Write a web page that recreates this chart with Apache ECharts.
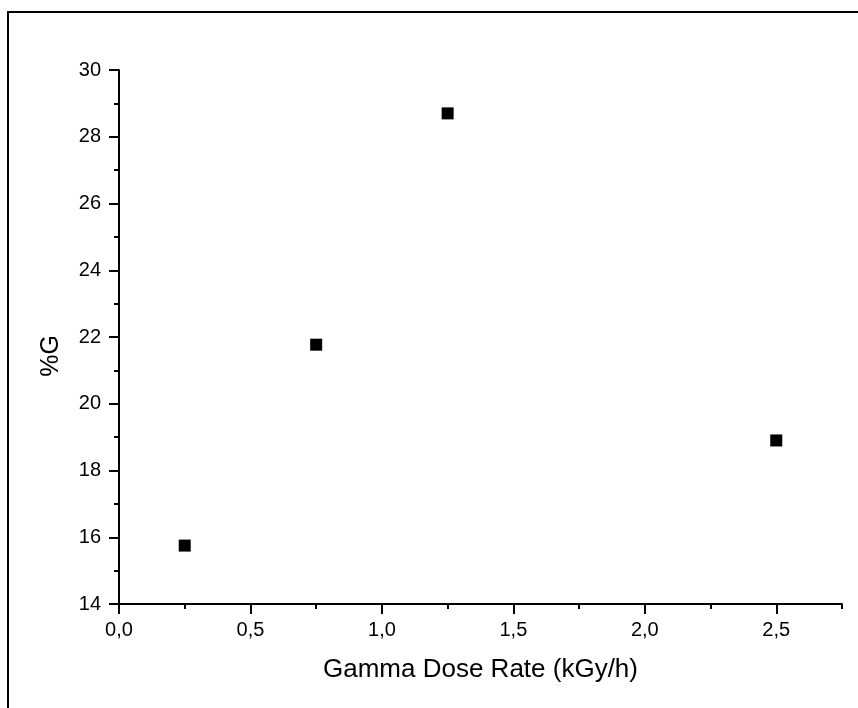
<!DOCTYPE html>
<html>
<head>
<meta charset="utf-8">
<script src="https://cdn.jsdelivr.net/npm/echarts@6/dist/echarts.min.js"></script>
<style>html,body{margin:0;padding:0;background:#fff}#c{width:858px;height:708px}</style>
</head>
<body>
<div id="c"></div>
<script>
const doseRate = [0.25, 0.75, 1.25, 2.5];
const gPercent = [15.75, 21.77, 28.70, 18.90];
const xMajorTicks = [0, 0.5, 1.0, 1.5, 2.0, 2.5];
const xMinorTicks = [0.25, 0.75, 1.25, 1.75, 2.25, 2.75];
const xTitle = 'Gamma Dose Rate (kGy/h)';
const yTitle = '%G';

const FONT = "'Liberation Sans', Arial, sans-serif";
const chart = echarts.init(document.getElementById('c'));
const lineStyle = {color: '#000', width: 2};
chart.setOption({
  animation: false,
  backgroundColor: '#fff',
  grid: {left: 119, right: 16, top: 70, bottom: 104},
  graphic: [
    {type: 'line', shape: {x1: 8, y1: 12, x2: 858, y2: 12}, style: {stroke: '#000', lineWidth: 2}},
    {type: 'line', shape: {x1: 8, y1: 11, x2: 8, y2: 708}, style: {stroke: '#000', lineWidth: 2}}
  ],
  xAxis: [{
    type: 'value', min: 0, max: 2.75, interval: 0.5,
    name: xTitle, nameLocation: 'middle', nameGap: 53,
    nameTextStyle: {fontFamily: FONT, fontSize: 26, color: '#000'},
    axisLine: {show: true, onZero: false, lineStyle: lineStyle},
    axisTick: {show: true, inside: false, length: 10, lineStyle: lineStyle, customValues: xMajorTicks},
    axisLabel: {show: true, margin: 16, fontFamily: FONT, fontSize: 20, color: '#000',
      customValues: xMajorTicks,
      formatter: v => v.toFixed(1).replace('.', ',')},
    splitLine: {show: false}
  }, {
    type: 'value', min: 0, max: 2.75, position: 'bottom',
    axisLine: {show: false, onZero: false},
    axisTick: {show: true, inside: false, length: 5, lineStyle: lineStyle, customValues: xMinorTicks},
    axisLabel: {show: false},
    splitLine: {show: false}
  }],
  yAxis: {
    type: 'value', min: 14, max: 30, interval: 2,
    name: yTitle, nameLocation: 'middle', nameGap: 55, nameRotate: 90,
    nameTextStyle: {fontFamily: FONT, fontSize: 25, color: '#000', padding: [0, 38, 0, 0]},
    axisLine: {show: true, onZero: false, lineStyle: lineStyle},
    axisTick: {show: true, inside: false, length: 10, lineStyle: lineStyle},
    minorTick: {show: true, splitNumber: 2, length: 5, lineStyle: lineStyle},
    axisLabel: {show: true, margin: 18, fontFamily: FONT, fontSize: 20, color: '#000',
      formatter: v => String(v)},
    splitLine: {show: false}
  },
  series: [{
    type: 'scatter',
    xAxisIndex: 0,
    data: doseRate.map((x, i) => [x, gPercent[i]]),
    symbol: 'rect', symbolSize: 12,
    itemStyle: {color: '#000', opacity: 1}
  }]
});
</script>
</body>
</html>
